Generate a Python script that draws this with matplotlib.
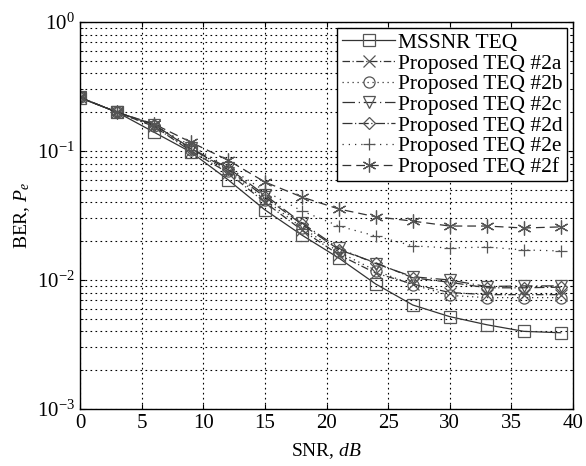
import matplotlib
matplotlib.use('Agg')
import matplotlib.pyplot as plt

plt.rcParams['font.family'] = ['Liberation Serif', 'DejaVu Serif']
plt.rcParams['mathtext.fontset'] = 'custom'
plt.rcParams['mathtext.rm'] = 'Liberation Serif'
plt.rcParams['mathtext.it'] = 'Liberation Serif:italic'

snr = [0, 3, 6, 9, 12, 15, 18, 21, 24, 27, 30, 33, 36, 39]

mssnr = [0.258, 0.200, 0.140, 0.098, 0.060, 0.035, 0.0223, 0.0148, 0.0093, 0.0064, 0.0052, 0.0045, 0.0040, 0.0039]
teq_2a = [0.26, 0.20, 0.155, 0.100, 0.068, 0.040, 0.0244, 0.0157, 0.0113, 0.0093, 0.0080, 0.0077, 0.0077, 0.0077]
teq_2b = [0.26, 0.20, 0.155, 0.102, 0.070, 0.042, 0.0255, 0.0165, 0.0118, 0.0092, 0.0076, 0.0073, 0.0073, 0.0073]
teq_2c = [0.26, 0.20, 0.160, 0.105, 0.074, 0.0456, 0.0277, 0.0176, 0.0134, 0.0106, 0.0100, 0.0089, 0.0090, 0.0090]
teq_2d = [0.26, 0.20, 0.160, 0.104, 0.072, 0.044, 0.0270, 0.0172, 0.0136, 0.0104, 0.0096, 0.0087, 0.0087, 0.0088]
teq_2e = [0.26, 0.20, 0.158, 0.110, 0.075, 0.049, 0.0343, 0.0262, 0.0219, 0.0184, 0.0177, 0.0180, 0.0171, 0.0168]
teq_2f = [0.26, 0.20, 0.162, 0.117, 0.085, 0.0575, 0.044, 0.0355, 0.0309, 0.0286, 0.0262, 0.0262, 0.0253, 0.0258]

# asterisk marker: 6 spokes
asterisk = (6, 2, 0)

series = [
    (mssnr, 'MSSNR TEQ', 's', '-'),
    (teq_2a, 'Proposed TEQ #2a', 'x', (0, (6, 2, 1, 2))),
    (teq_2b, 'Proposed TEQ #2b', 'o', (0, (1, 3))),
    (teq_2c, 'Proposed TEQ #2c', 'v', (0, (10, 3, 1, 3))),
    (teq_2d, 'Proposed TEQ #2d', 'D', (0, (8, 2, 1, 2))),
    (teq_2e, 'Proposed TEQ #2e', '+', (0, (1, 4))),
    (teq_2f, 'Proposed TEQ #2f', asterisk, (0, (7, 4))),
]

fig = plt.figure(figsize=(5.86, 4.66), dpi=100)
ax = fig.add_axes([80 / 586, 1 - 409 / 466, 493 / 586, 387 / 466])

for vals, name, mk, ls in series:
    size = 6.5 if mk == 'D' else (10 if mk == asterisk else 8)
    ax.semilogy(snr, vals, color='#333333', linestyle=ls, linewidth=0.9,
                marker=mk, markersize=size, markerfacecolor='none',
                markeredgecolor='#555555', markeredgewidth=0.9, label=name)

ax.set_xlim(0, 40)
ax.set_ylim(1e-3, 1)
ax.set_xticks(range(0, 41, 5))
ax.grid(True, which='major', color='black', linestyle=(0, (1.5, 3)), linewidth=0.8)
ax.grid(True, which='minor', axis='y', color='black', linestyle=(0, (1.5, 3)), linewidth=0.8)
ax.tick_params(direction='in', labelsize=15, which='both', top=True, right=True)
for s in ax.spines.values():
    s.set_linewidth(1.0)

ax.set_xlabel('SNR, $\\it{dB}$', fontsize=14, labelpad=6)
ax.set_ylabel('BER, $\\it{P}_e$', fontsize=14, labelpad=4)

leg = ax.legend(loc='upper right', fontsize=15.5, frameon=True, fancybox=False,
                edgecolor='black', framealpha=1, borderpad=0.2, labelspacing=0.03,
                handlelength=2.5, handletextpad=0.1, borderaxespad=0.3)
leg.get_frame().set_linewidth(1.0)

fig.savefig('out.png', dpi=100)
